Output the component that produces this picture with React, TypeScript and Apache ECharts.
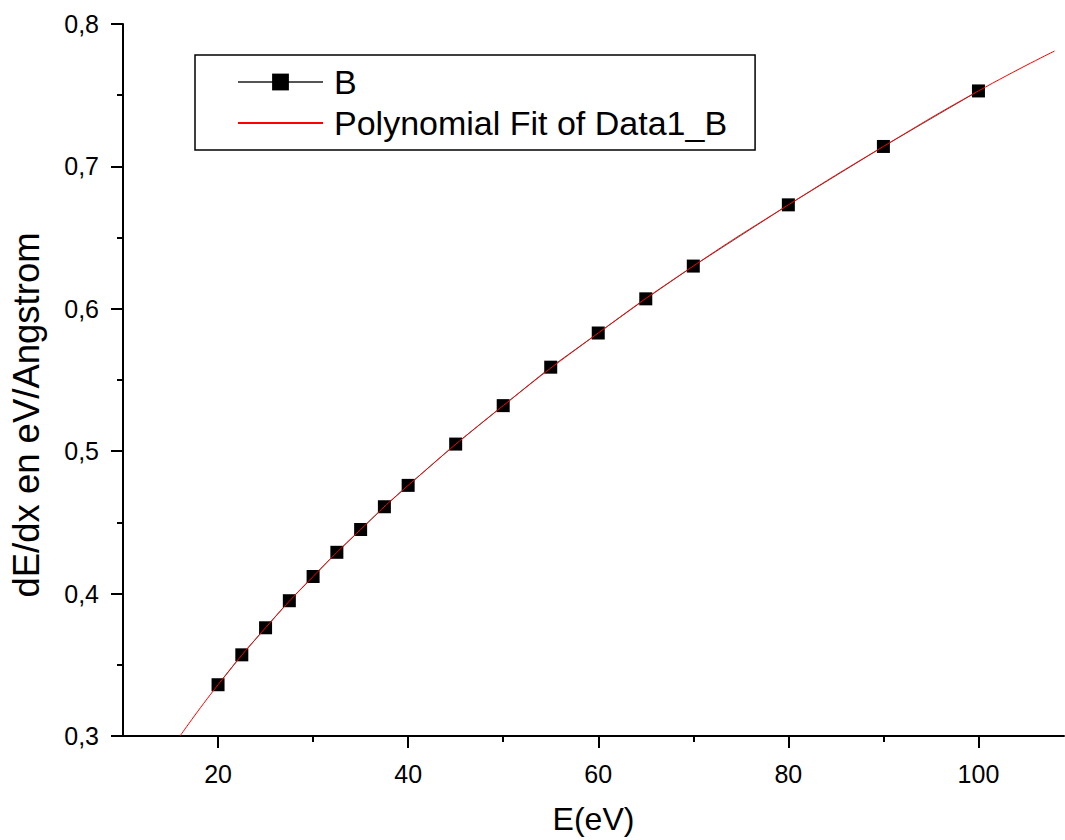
import React, { useEffect, useRef } from "react";
import * as echarts from "echarts";

const energies = [20, 22.5, 25, 27.5, 30, 32.5, 35, 37.5, 40, 45, 50, 55, 60, 65, 70, 80, 90, 100];
const dedx = [0.336, 0.357, 0.376, 0.395, 0.412, 0.429, 0.445, 0.461, 0.476, 0.505, 0.532, 0.559, 0.583, 0.607, 0.63, 0.673, 0.714, 0.753];

const fitE = [16, 20, 25, 30, 35, 40, 50, 60, 70, 80, 90, 100, 108];
const fitValues = [0.3, 0.336, 0.376, 0.412, 0.445, 0.476, 0.532, 0.583, 0.63, 0.673, 0.714, 0.753, 0.781];

const xMajorTicks = [20, 40, 60, 80, 100];
const xMinorTicks = [30, 50, 70, 90];

const seriesNames = ["B", "Polynomial Fit of Data1_B"];
const xTitle = "E(eV)";
const yTitle = "dE/dx en eV/Angstrom";

const FONT = "'Liberation Sans', Arial, sans-serif";

export default function App() {
  const ref = useRef<HTMLDivElement>(null);
  useEffect(() => {
    if (!ref.current) return;
    const chart = echarts.init(ref.current, undefined, { renderer: "svg" });
    chart.setOption({
      animation: false,
      backgroundColor: "#ffffff",
      textStyle: { fontFamily: FONT },
      grid: { left: 123, right: 1, top: 24, bottom: 100 },
      legend: {
        orient: "vertical",
        left: 195,
        top: 55,
        data: [
          { name: seriesNames[0] },
          { name: seriesNames[1], itemStyle: { color: "rgba(0,0,0,0)", opacity: 0, borderWidth: 0 } },
        ],
        backgroundColor: "#ffffff",
        borderColor: "#000000",
        borderWidth: 1.5,
        borderRadius: 0,
        padding: [10, 28, 10, 42],
        itemGap: 7,
        itemWidth: 85,
        itemHeight: 21,
        textStyle: { fontFamily: FONT, fontSize: 34, color: "#000", padding: [0, 0, 0, 6] },
      },
      xAxis: [
        {
          type: "value",
          min: 10,
          max: 109,
          name: xTitle,
          nameLocation: "middle",
          nameGap: 67,
          nameTextStyle: { fontFamily: FONT, fontSize: 32, color: "#000" },
          axisLine: { show: true, onZero: false, lineStyle: { color: "#000", width: 2 } },
          axisTick: { show: true, inside: false, length: 12, lineStyle: { color: "#000", width: 2 }, customValues: xMajorTicks },
          axisLabel: { fontFamily: FONT, fontSize: 25, color: "#000", margin: 25, customValues: xMajorTicks },
          splitLine: { show: false },
        },
        {
          type: "value",
          min: 10,
          max: 109,
          position: "bottom",
          axisLine: { show: false },
          axisTick: { show: true, inside: false, length: 6, lineStyle: { color: "#000", width: 2 }, customValues: xMinorTicks },
          axisLabel: { show: false },
          splitLine: { show: false },
        },
      ],
      yAxis: {
        type: "value",
        min: 0.3,
        max: 0.8,
        interval: 0.1,
        axisLine: { show: true, onZero: false, lineStyle: { color: "#000", width: 2 } },
        axisTick: { show: true, inside: false, length: 12, lineStyle: { color: "#000", width: 2 } },
        minorTick: { show: true, splitNumber: 2, length: 6, lineStyle: { color: "#000", width: 2 } },
        axisLabel: {
          fontFamily: FONT,
          fontSize: 25,
          color: "#000",
          margin: 24,
          formatter: (v: number) => v.toFixed(1).replace(".", ","),
        },
        splitLine: { show: false },
      },
      graphic: [
        {
          type: "text",
          x: 26,
          y: 415,
          rotation: Math.PI / 2,
          style: {
            text: yTitle,
            font: `36.5px ${FONT}`,
            fill: "#000",
            align: "center",
            verticalAlign: "middle",
          },
        },
      ],
      series: [
        {
          name: seriesNames[0],
          type: "line",
          xAxisIndex: 0,
          data: energies.map((e, i) => [e, dedx[i]]),
          symbol: "rect",
          symbolSize: 13,
          itemStyle: { color: "#000" },
          lineStyle: { color: "#555", width: 1 },
          z: 2,
        },
        {
          name: seriesNames[1],
          type: "line",
          xAxisIndex: 0,
          data: fitE.map((e, i) => [e, fitValues[i]]),
          symbol: "none",
          smooth: true,
          itemStyle: { color: "#ff0000" },
          lineStyle: { color: "#ff0000", width: 1 },
          z: 3,
        },
      ],
    });
    return () => chart.dispose();
  }, []);
  return <div ref={ref} style={{ position: "fixed", left: 0, top: 0, width: 1065, height: 840 }} />;
}
